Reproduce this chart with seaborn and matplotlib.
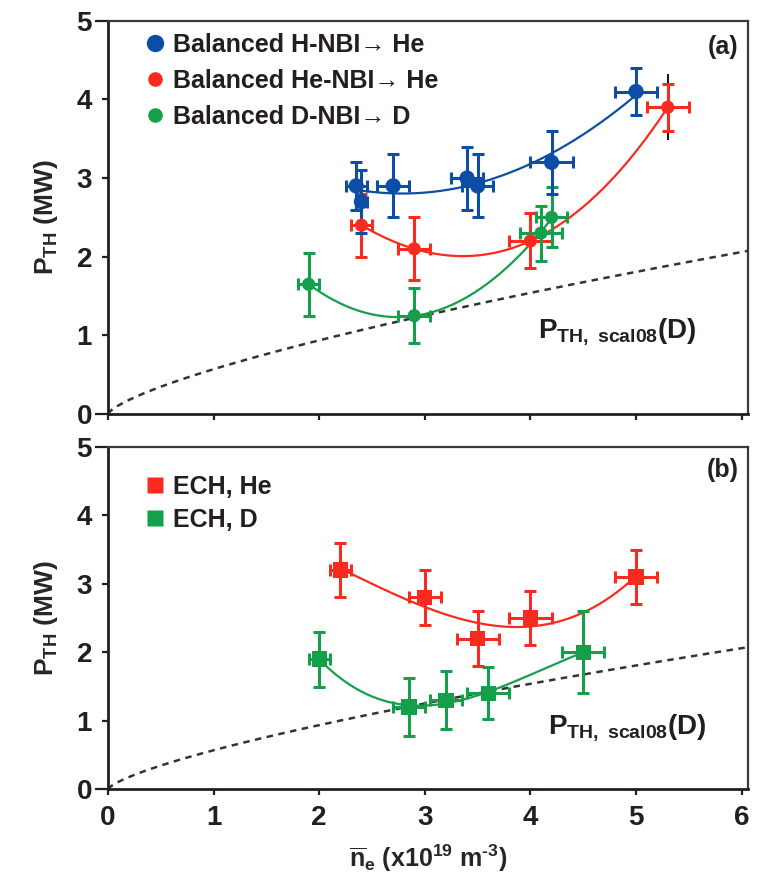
import numpy as np
import pandas as pd
import matplotlib
matplotlib.use("Agg")
import matplotlib.pyplot as plt
from matplotlib import font_manager
from matplotlib.lines import Line2D
import seaborn as sns

# ---------------- data ----------------
# (a) balanced NBI
h_nbi_he_ne = [2.35, 2.4, 2.7, 3.4, 3.5, 4.2, 5.0]
h_nbi_he_p = [2.9, 2.7, 2.9, 3.0, 2.9, 3.2, 4.1]
h_nbi_he_xerr = [0.1, 0.05, 0.15, 0.15, 0.15, 0.2, 0.2]
h_nbi_he_yerr = [0.3, 0.4, 0.4, 0.4, 0.4, 0.4, 0.3]

he_nbi_he_ne = [2.4, 2.9, 4.0, 5.3]
he_nbi_he_p = [2.4, 2.1, 2.2, 3.9]
he_nbi_he_xerr = [0.1, 0.15, 0.2, 0.2]
he_nbi_he_yerr = [0.4, 0.4, 0.35, 0.3]

d_nbi_d_ne = [1.9, 2.9, 4.1, 4.2]
d_nbi_d_p = [1.65, 1.25, 2.3, 2.5]
d_nbi_d_xerr = [0.1, 0.15, 0.2, 0.15]
d_nbi_d_yerr = [0.4, 0.35, 0.35, 0.38]

# (b) ECH
ech_he_ne = [2.2, 3.0, 3.5, 4.0, 5.0]
ech_he_p = [3.2, 2.8, 2.2, 2.5, 3.1]
ech_he_xerr = [0.1, 0.15, 0.2, 0.2, 0.2]
ech_he_yerr = [0.4, 0.4, 0.4, 0.4, 0.4]

ech_d_ne = [2.0, 2.85, 3.2, 3.6, 4.5]
ech_d_p = [1.9, 1.2, 1.3, 1.4, 2.0]
ech_d_xerr = [0.1, 0.15, 0.15, 0.2, 0.2]
ech_d_yerr = [0.4, 0.42, 0.42, 0.38, 0.6]

# ITPA 2008 L-H threshold scaling for D, P ~ C * ne^0.717 at fixed B and S
scal08_coef = 0.57
scal08_exp = 0.717

x_ticks = [0, 1, 2, 3, 4, 5, 6]
y_ticks = [0, 1, 2, 3, 4, 5]

BLUE = "#0c4ea6"
RED = "#fb2a1e"
GREEN = "#14a04a"
INK = "#231f20"

# ---------------- style ----------------
sns.set_theme(style="ticks")
names = {f.name for f in font_manager.fontManager.ttflist}
FONT = "Liberation Sans Narrow" if "Liberation Sans Narrow" in names else "Liberation Sans"
plt.rcParams["font.family"] = [FONT, "DejaVu Sans"]
plt.rcParams["font.weight"] = "bold"
plt.rcParams["mathtext.fontset"] = "custom"
plt.rcParams["mathtext.rm"] = f"{FONT}:bold"
plt.rcParams["mathtext.it"] = f"{FONT}:bold"
plt.rcParams["mathtext.bf"] = f"{FONT}:bold"
plt.rcParams["text.color"] = INK

fig = plt.figure(figsize=(7.6, 8.82), dpi=100)
ax_a = fig.add_axes([0.1421, 0.5306, 0.8421, 0.4459])
ax_b = fig.add_axes([0.1421, 0.1051, 0.8421, 0.3884])

EB = dict(fmt="none", elinewidth=2.2, capsize=4.5, capthick=2.2, zorder=3)


def draw_series(ax, ne, p, xerr, yerr, color, marker, size, deg=2):
    df = pd.DataFrame({"ne": ne, "p": p})
    coef = np.polyfit(df["ne"], df["p"], deg)
    xs = np.linspace(df["ne"].min(), df["ne"].max(), 200)
    sns.lineplot(x=xs, y=np.polyval(coef, xs), color=color, lw=1.6,
                 ax=ax, sort=False, zorder=2)
    ax.errorbar(df["ne"], df["p"], xerr=xerr, yerr=yerr, ecolor=color, **EB)
    sns.scatterplot(data=df, x="ne", y="p", color=color, marker=marker,
                    s=size ** 2, edgecolor="none", linewidth=0, ax=ax,
                    legend=False, zorder=4)


def draw_scaling(ax):
    xs = np.linspace(0.0, 6.06, 300)
    ax.plot(xs, scal08_coef * xs ** scal08_exp, color="#333333", lw=1.8,
            ls=(0, (2.6, 2.2)), zorder=1)


def style_axes(ax, show_xlabels):
    ax.set_xlim(0, 6.06)
    ax.set_ylim(0, 5)
    ax.set_xticks(x_ticks)
    ax.set_yticks(y_ticks)
    ax.set_xlabel("")
    ax.set_ylabel(r"$\mathrm{P}_{\mathrm{TH}}$ (MW)", fontsize=19,
                  fontweight="bold", labelpad=12)
    for side in ("left", "bottom"):
        ax.spines[side].set_linewidth(2.0)
        ax.spines[side].set_color("#231f20")
    for side in ("top", "right"):
        ax.spines[side].set_visible(True)
        ax.spines[side].set_linewidth(1.6)
        ax.spines[side].set_color("#3a3a3a")
    ax.tick_params(axis="both", direction="out", length=4.5, width=1.6,
                   color="#231f20", labelsize=20, pad=7, labelcolor=INK)
    ax.tick_params(axis="x", labelbottom=show_xlabels)
    yt = ax.yaxis.get_major_ticks()
    for t in (yt[0], yt[-1]):
        t.tick1line.set_markersize(9.5)
    for lab in ax.get_xticklabels() + ax.get_yticklabels():
        lab.set_fontweight("bold")


# ---------------- (a) ----------------
draw_scaling(ax_a)
# extra black bar on the highest-density He-NBI point
ax_a.errorbar([5.3], [3.9], yerr=[0.42], fmt="none", ecolor="black",
              elinewidth=1.3, capsize=0, zorder=2.5)
draw_series(ax_a, he_nbi_he_ne, he_nbi_he_p, he_nbi_he_xerr, he_nbi_he_yerr, RED, "o", 9.5, deg=3)
draw_series(ax_a, d_nbi_d_ne, d_nbi_d_p, d_nbi_d_xerr, d_nbi_d_yerr, GREEN, "o", 9.5)
draw_series(ax_a, h_nbi_he_ne, h_nbi_he_p, h_nbi_he_xerr, h_nbi_he_yerr, BLUE, "o", 11)
style_axes(ax_a, False)

ax_a.text(4.07, 0.97, r"$\mathrm{P}_{\mathrm{TH,\ scal08}}$(D)", fontsize=20,
          ha="left", va="baseline", color=INK)
ax_a.text(5.97, 4.66, "(a)", fontsize=18, ha="right", va="center",
          fontweight="bold", color=INK)

h_a = [
    Line2D([], [], ls="none", marker="o", ms=12.5, color=BLUE, mec="none"),
    Line2D([], [], ls="none", marker="o", ms=10.5, color=RED, mec="none"),
    Line2D([], [], ls="none", marker="o", ms=10.5, color=GREEN, mec="none"),
]
l_a = ["Balanced H-NBI\u2192 He", "Balanced He-NBI\u2192 He", "Balanced D-NBI\u2192 D"]
leg = ax_a.legend(h_a, l_a, loc="upper left", bbox_to_anchor=(0.0617, 0.969),
                  frameon=False, fontsize=18, handlelength=0.6,
                  handletextpad=0.42, labelspacing=0.48, borderpad=0,
                  borderaxespad=0)
for t in leg.get_texts():
    t.set_fontweight("bold")
    t.set_color(INK)

# ---------------- (b) ----------------
draw_scaling(ax_b)
draw_series(ax_b, ech_d_ne, ech_d_p, ech_d_xerr, ech_d_yerr, GREEN, "s", 11, deg=3)
draw_series(ax_b, ech_he_ne, ech_he_p, ech_he_xerr, ech_he_yerr, RED, "s", 11, deg=3)
style_axes(ax_b, True)
ax_b.set_xlabel(r"$\overline{\mathrm{n}}_{\mathrm{e}}$ (x10$^{19}$ m$^{\text{-3}}$)",
                fontsize=18, fontweight="bold", labelpad=8)

ax_b.text(4.17, 0.82, r"$\mathrm{P}_{\mathrm{TH,\ scal08}}$(D)", fontsize=20,
          ha="left", va="baseline", color=INK)
ax_b.text(5.97, 4.66, "(b)", fontsize=18, ha="right", va="center",
          fontweight="bold", color=INK)

h_b = [
    Line2D([], [], ls="none", marker="s", ms=11, color=RED, mec="none"),
    Line2D([], [], ls="none", marker="s", ms=11, color=GREEN, mec="none"),
]
leg_b = ax_b.legend(h_b, ["ECH, He", "ECH, D"], loc="upper left",
                    bbox_to_anchor=(0.0617, 0.917), frameon=False, fontsize=18,
                    handlelength=0.6, handletextpad=0.42, labelspacing=0.34,
                    borderpad=0, borderaxespad=0)
for t in leg_b.get_texts():
    t.set_fontweight("bold")
    t.set_color(INK)

fig.savefig("out.png", dpi=100)
